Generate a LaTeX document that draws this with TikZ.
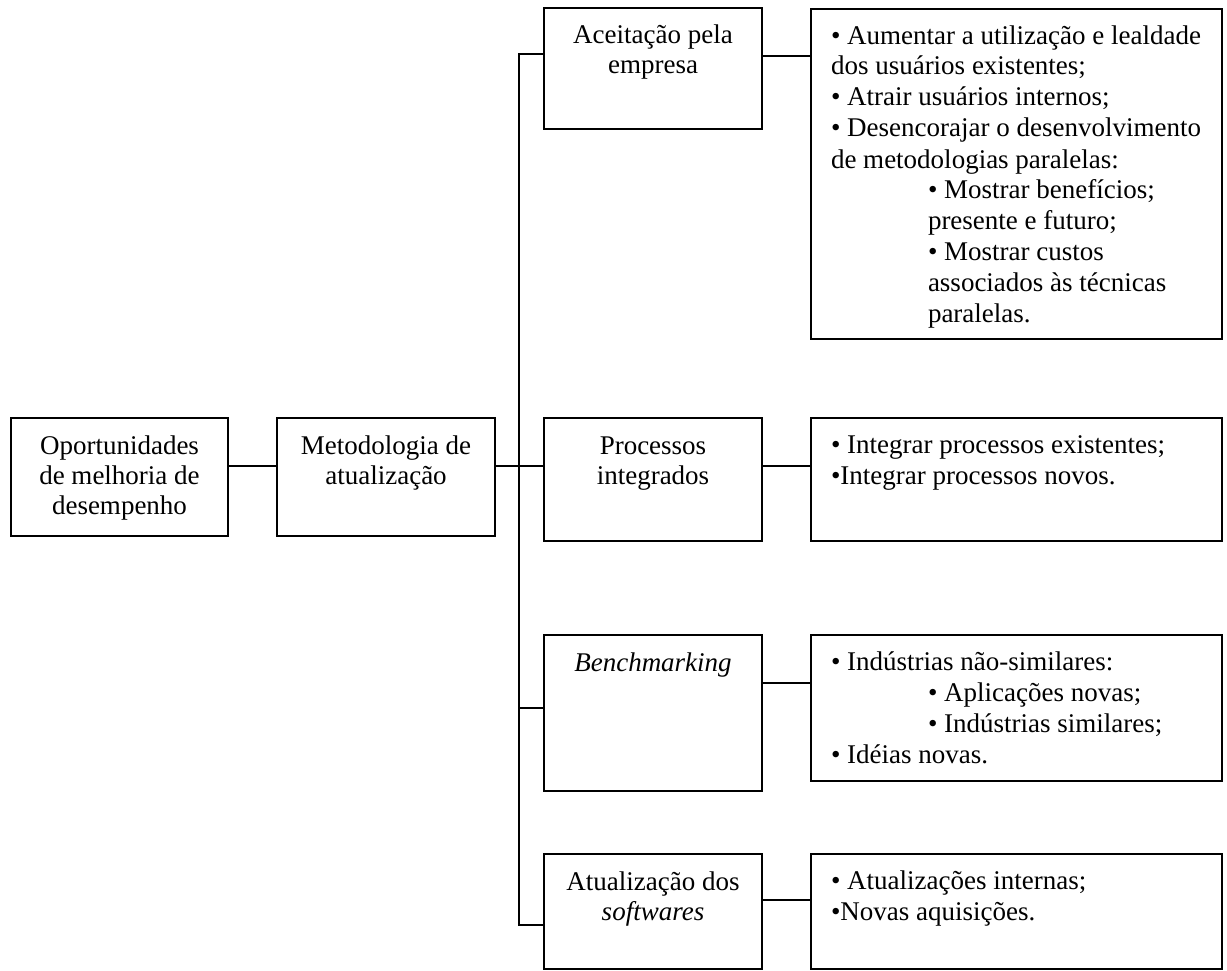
\documentclass[tikz,border=0pt]{standalone}
\usepackage{fontspec}
\setmainfont{Liberation Serif}
\newcommand{\lcontent}[3]{\parbox[c][#2][t]{#1}{\centering\vspace*{15pt}\strut#3}}
\newcommand{\rcontent}[3]{\parbox[c][#2][t]{#1}{\raggedright\leftskip=20pt\relax\vspace*{13.3pt}\strut#3}}
\begin{document}
\begin{tikzpicture}[x=1pt,y=-1pt,
  bx/.style={draw, line width=2pt, inner sep=0pt, anchor=north west, font=\fontsize{27}{30}\selectfont},
  rbx/.style={bx, font=\fontsize{27}{31}\selectfont},
  ln/.style={line width=2pt, line join=miter}]
\useasboundingbox (0,0) rectangle (1227,971);

% left boxes
\node[bx] (b1) at (10,417) {\lcontent{217pt}{118pt}{Oportunidades\\de melhoria de\\desempenho}};
\node[bx] (b2) at (276,417) {\lcontent{218pt}{118pt}{Metodologia de\\atualização}};

% middle column
\node[bx] (a1) at (543,7) {\lcontent{218pt}{121pt}{Aceitação pela\\empresa}};
\node[bx] (a2) at (543,417) {\lcontent{218pt}{123pt}{Processos\\integrados}};
\node[bx] (a3) at (543,634) {\lcontent{218pt}{156pt}{\textit{Benchmarking}}};
\node[bx] (a4) at (543,853) {\lcontent{218pt}{115pt}{Atualização dos\\\textit{softwares}}};

% right column
\node[rbx] (r1) at (810,8) {\rcontent{411pt}{330pt}{• Aumentar a utilização e lealdade\\
dos usuários existentes;\\
• Atrair usuários internos;\\
• Desencorajar o desenvolvimento\\
de metodologias paralelas:\\
\hspace*{97pt}• Mostrar benefícios;\\
\hspace*{97pt}presente e futuro;\\
\hspace*{97pt}• Mostrar custos\\
\hspace*{97pt}associados às técnicas\\
\hspace*{97pt}paralelas.}};
\node[rbx] (r2) at (810,417) {\rcontent{411pt}{123pt}{• Integrar processos existentes;\\
•Integrar processos novos.}};
\node[rbx] (r3) at (810,634) {\rcontent{411pt}{146pt}{• Indústrias não-similares:\\
\hspace*{97pt}• Aplicações novas;\\
\hspace*{97pt}• Indústrias similares;\\
• Idéias novas.}};
\node[rbx] (r4) at (810,853) {\rcontent{411pt}{115pt}{• Atualizações internas;\\
•Novas aquisições.}};

% connector levels
\coordinate (ttop) at (519,54);
\coordinate (tbot) at (519,925);
\coordinate (tmid) at (519,466);
\coordinate (tben) at (519,708);
\coordinate (c1) at (785,56);
\coordinate (c3) at (785,683);
\coordinate (c4) at (785,900);

% trunk
\draw[ln] (a1.west |- ttop) -- (ttop) -- (tbot) -- (a4.west |- tbot);
\draw[ln] (b1.east |- tmid) -- (b2.west |- tmid);
\draw[ln] (b2.east |- tmid) -- (a2.west |- tmid);
\draw[ln] (tben) -- (a3.west |- tben);

% middle to right
\draw[ln] (a1.east |- c1) -- (r1.west |- c1);
\draw[ln] (a2.east |- tmid) -- (r2.west |- tmid);
\draw[ln] (a3.east |- c3) -- (r3.west |- c3);
\draw[ln] (a4.east |- c4) -- (r4.west |- c4);
\end{tikzpicture}
\end{document}
